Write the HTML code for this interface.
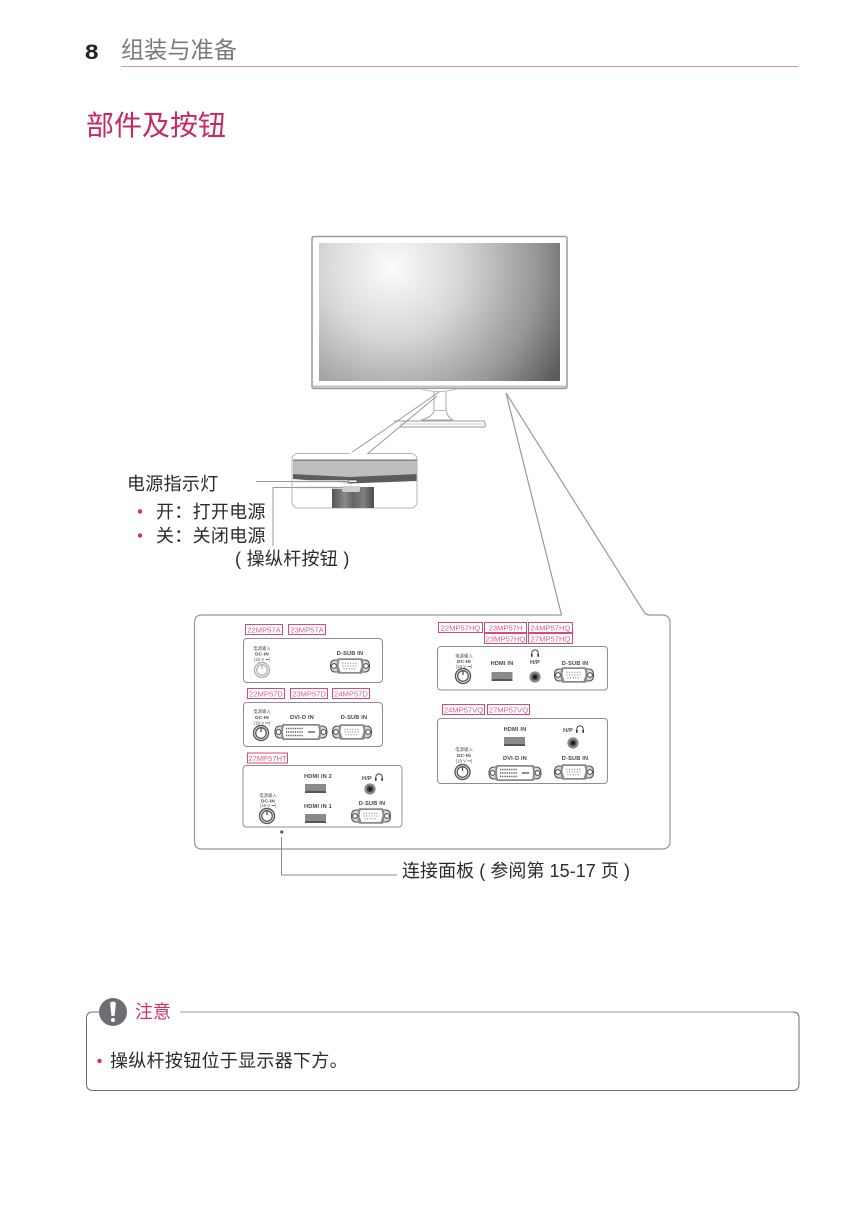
<!DOCTYPE html>
<html><head><meta charset="utf-8">
<style>
html,body{margin:0;padding:0;background:#fff;width:860px;height:1215px;overflow:hidden}
svg{display:block}
text{font-family:"Liberation Sans","Noto Sans CJK SC",sans-serif}
.c{font-size:18px;fill:#2b2b2b;letter-spacing:.3px}
.t rect{fill:#fff;stroke:#d6497a;stroke-width:1}
.t text{font-size:7.6px;fill:#d9608a;text-anchor:middle}
.b{fill:#fff;stroke:#8e8e8e;stroke-width:1}
.l{font-size:5.6px;font-weight:bold;fill:#444;text-anchor:middle;letter-spacing:.2px}
.s{font-size:4.4px;fill:#555;text-anchor:middle}
</style></head><body>
<svg width="860" height="1215" viewBox="0 0 860 1215" xmlns="http://www.w3.org/2000/svg">
<defs>
<radialGradient id="sc" gradientUnits="userSpaceOnUse" cx="392" cy="268" r="195">
<stop offset="0" stop-color="#fcfcfc"/><stop offset=".35" stop-color="#d8d8d8"/><stop offset=".75" stop-color="#969696"/><stop offset="1" stop-color="#5c5c5c"/>
</radialGradient>
<linearGradient id="col" x1="0" x2="1" y1="0" y2="0">
<stop offset="0" stop-color="#555"/><stop offset=".3" stop-color="#8a8a8a"/><stop offset=".5" stop-color="#666"/><stop offset=".75" stop-color="#808080"/><stop offset="1" stop-color="#4c4c4c"/>
</linearGradient>
<g id="dsub">
<path d="M-15-6H15Q19.500-6 19.500 0Q19.500 6 15 6H-15Q-19.500 6-19.500 0Q-19.500-6-15-6Z" fill="#d8d8d8" stroke="#555" stroke-width="1.100"/>
<circle cx="-16" cy="0" r="2.400" fill="#fff" stroke="#444" stroke-width="1"/>
<circle cx="16" cy="0" r="2.400" fill="#fff" stroke="#444" stroke-width="1"/>
<path d="M-12-7.800H12Q13.500-4 13.500 0Q13.500 4 12 7.800H-12Q-13.500 4-13.500 0Q-13.500-4-12-7.800Z" fill="#8a8a8a"/>
<path d="M-10.500-6H10.500Q11.500-3 11.500 0Q10.500 3 9.500 6H-9.500Q-10.500 3-11.500 0Q-11.500-3-10.500-6Z" fill="#fff"/>
<path d="M-7.500-2.800H7.500M-7.500 0H7.500M-6.500 2.800H6.500" stroke="#777" stroke-width="1" stroke-dasharray="1 1.600" fill="none"/>
</g>
<g id="dvi">
<path d="M-21-6H21Q26-6 26 0Q26 6 21 6H-21Q-26 6-26 0Q-26-6-21-6Z" fill="#d8d8d8" stroke="#555" stroke-width="1.100"/>
<circle cx="-22.500" cy="0" r="2.400" fill="#fff" stroke="#444" stroke-width="1"/>
<circle cx="22.500" cy="0" r="2.400" fill="#fff" stroke="#444" stroke-width="1"/>
<path d="M-18.500-8H18.500Q20-4 20 0Q20 4 18.500 8H-18.500Q-20 4-20 0Q-20-4-18.500-8Z" fill="#8a8a8a"/>
<path d="M-17-6.200H17Q18-3 18 0Q18 3 17 6.200H-17Q-18 3-18 0Q-18-3-17-6.200Z" fill="#fff"/>
<path d="M-15-3.500H2M-15 0H2M-15 3.500H2" stroke="#555" stroke-width="1.500" stroke-dasharray="1 .8" fill="none"/>
<path d="M7 0H14" stroke="#555" stroke-width="1.300"/>
</g>
<g id="dc">
<circle r="7.500" fill="#fff" stroke="#555" stroke-width="1.400"/>
<circle r="5.300" fill="#fff" stroke="#555" stroke-width="1.300"/>
<path d="M0-4.500V-1" stroke="#444" stroke-width="1.200"/>
</g>
<g id="jack">
<circle r="5.600" fill="#888"/><circle r="3.300" fill="#444"/><circle r="1.400" fill="#111"/>
</g>
<g id="hp">
<path d="M-3.200 2V0A3.200 3.200 0 0 1 3.200 0V2" fill="none" stroke="#333" stroke-width=".9"/>
<rect x="-4" y="1" width="1.600" height="2.800" fill="#333"/><rect x="2.400" y="1" width="1.600" height="2.800" fill="#333"/>
</g>
<g id="hdmi">
<rect width="21" height="9" fill="#8a8a8a"/>
<rect y="7.500" width="21" height="1.500" fill="#444"/>
<path d="M0 9L2 7H19L21 9Z" fill="#555"/>
</g>
</defs>

<!-- header -->
<text x="85" y="59" font-size="21" font-weight="bold" fill="#222" transform="translate(-12.750,0) scale(1.150,1)">8</text>
<text x="121" y="58" font-size="23.200" fill="#7a7a7a">组装与准备</text>
<rect x="121" y="66" width="677" height="1" fill="#e58cab"/>
<text x="86" y="135" font-size="28" fill="#c9285f">部件及按钮</text>

<!-- monitor -->
<rect x="312" y="236.500" width="255" height="152" rx="2" fill="#fff" stroke="#9a9a9a" stroke-width="1.500"/>
<rect x="319" y="243" width="241" height="138" fill="url(#sc)"/>
<path d="M313 386.500H566" stroke="#c4c4c4" stroke-width="2"/>
<!-- stand -->
<path d="M422 389Q438 394 457 389" fill="#fff" stroke="#bbb" stroke-width="1"/>
<path d="M434 392V410Q433 417 421 420H453Q447 417 446 410V392" fill="#fff" stroke="#aaa" stroke-width="1"/>
<rect x="433.500" y="410" width="13" height="1" fill="#bbb"/>
<path d="M394 421H484Q486 424 485 427H400" fill="#fff" stroke="#999" stroke-width="1"/>
<path d="M400 424H484" stroke="#ccc" stroke-width="1"/>
<!-- callout -->
<path d="M349.500 454L439 392M367 454L437 396" fill="#fff" stroke="#999" stroke-width="1"/>
<rect x="292" y="453.500" width="125" height="54.500" rx="6" fill="#fff" stroke="#b5b5b5" stroke-width="1"/>
<rect x="350" y="452" width="17" height="3" fill="#fff"/>
<path d="M293 460H416.500V474L350 477L293 474Z" fill="#bdbdbd"/>
<rect x="293" y="459.500" width="124" height="1.300" fill="#777"/>
<path d="M293 474L350 477L416.500 474V481L350 483.500L293 479Z" fill="#5c5c5c"/>
<rect x="332" y="487" width="42" height="21" fill="url(#col)"/>
<rect x="342" y="486" width="18" height="6" rx="2" fill="#cfcfcf"/>
<rect x="348" y="480" width="9" height="2.500" fill="#eee" stroke="#333" stroke-width=".6"/>
<path d="M292 481.500H348M292 487.500H343" stroke="#eee" stroke-width="2.500" fill="none"/>
<path d="M256 481.500H348" stroke="#999" stroke-width="1" fill="none"/>
<path d="M273 546V487.500H343" stroke="#999" stroke-width="1" fill="none"/>

<!-- labels -->
<text x="127" y="490" class="c">电源指示灯</text>
<circle cx="140" cy="511.500" r="2.200" fill="#d42e6b"/>
<text x="156" y="518" class="c">开：打开电源</text>
<circle cx="140" cy="535.500" r="2.200" fill="#d42e6b"/>
<text x="156" y="542" class="c">关：关闭电源</text>
<text x="235" y="565" class="c">( 操纵杆按钮 )</text>

<!-- connector panel -->
<path d="M506 393L561.500 615H202Q194.500 615 194.500 623V841Q194.500 849 202 849H662Q670 849 670 841V623Q670 615 662 615H650Q646 615 644 612L506 393" fill="#fff" stroke="#999" stroke-width="1.200"/>

<!-- model tags -->
<g class="t">
<rect x="245.500" y="624.500" width="37" height="10"/><text x="264" y="632.500">22MP57A</text>
<rect x="288.500" y="624.500" width="37" height="10"/><text x="307" y="632.500">23MP57A</text>
<rect x="247.500" y="688.500" width="37" height="10"/><text x="266" y="696.500">22MP57D</text>
<rect x="290.500" y="688.500" width="37" height="10"/><text x="309" y="696.500">23MP57D</text>
<rect x="332.500" y="688.500" width="37" height="10"/><text x="351" y="696.500">24MP57D</text>
<rect x="247.500" y="753" width="40" height="10"/><text x="267.500" y="761">27MP57HT</text>
<rect x="438.500" y="622.500" width="44" height="10"/><text x="460.500" y="630.500">22MP57HQ</text>
<rect x="484.500" y="622.500" width="42" height="10"/><text x="505.500" y="630.500">23MP57H</text>
<rect x="528.500" y="622.500" width="44" height="10"/><text x="550.500" y="630.500">24MP57HQ</text>
<rect x="484.500" y="633.500" width="42" height="10"/><text x="505.500" y="641.500">23MP57HQ</text>
<rect x="528.500" y="633.500" width="44" height="10"/><text x="550.500" y="641.500">27MP57HQ</text>
<rect x="442.500" y="704.500" width="42" height="10"/><text x="463.500" y="712.500">24MP57VQ</text>
<rect x="487.500" y="704.500" width="42" height="10"/><text x="508.500" y="712.500">27MP57VQ</text>
</g>

<!-- box 1 -->
<rect x="243.500" y="638.500" width="139" height="44" rx="3.500" class="b"/>
<text x="262" y="650" class="s">电源输入</text><text x="262" y="655.500" class="l" style="font-size:4.600px">DC-IN</text><text x="262" y="661" class="s">(19 V ⎓)</text>
<g transform="translate(262,670)" opacity=".45"><use href="#dc"/></g>
<text x="350" y="655" class="l">D-SUB IN</text><use href="#dsub" x="350" y="666"/>

<!-- box 2 -->
<rect x="243.500" y="702.500" width="139" height="44" rx="3.500" class="b"/>
<text x="262" y="713" class="s">电源输入</text><text x="262" y="719" class="l" style="font-size:4.600px">DC-IN</text><text x="262" y="724.500" class="s">(19 V ⎓)</text>
<use href="#dc" x="261" y="733"/>
<text x="302" y="719" class="l">DVI-D IN</text><use href="#dvi" x="301" y="732"/>
<text x="354" y="719" class="l">D-SUB IN</text><use href="#dsub" x="352" y="732"/>

<!-- box 3 -->
<rect x="243" y="765.500" width="159" height="61.500" rx="3.500" class="b"/>
<text x="268" y="797" class="s">电源输入</text><text x="268" y="802.500" class="l" style="font-size:4.600px">DC-IN</text><text x="268" y="807" class="s">(19 V ⎓)</text>
<use href="#dc" x="267" y="816"/>
<text x="318" y="778" class="l">HDMI IN 2</text>
<use href="#hdmi" x="305" y="784"/>
<text x="318" y="808" class="l">HDMI IN 1</text>
<use href="#hdmi" x="305" y="814"/>
<text x="367" y="780" class="l">H/P</text><use href="#hp" x="379" y="777"/>
<use href="#jack" x="370" y="789"/>
<text x="372" y="805" class="l">D-SUB IN</text><use href="#dsub" x="371" y="816"/>

<!-- box 4 -->
<rect x="437.500" y="646.500" width="170" height="43.500" rx="3.500" class="b"/>
<text x="464" y="657.500" class="s">电源输入</text><text x="464" y="663" class="l" style="font-size:4.600px">DC-IN</text><text x="464" y="668" class="s">(19 V ⎓)</text>
<use href="#dc" x="463" y="676"/>
<text x="502" y="665" class="l">HDMI IN</text>
<use href="#hdmi" x="491.500" y="672"/>
<use href="#hp" x="535" y="653"/>
<text x="535" y="664" class="l">H/P</text>
<use href="#jack" x="535" y="677"/>
<text x="575" y="665" class="l">D-SUB IN</text><use href="#dsub" x="574" y="675"/>

<!-- box 5 -->
<rect x="437.500" y="718.500" width="170" height="65" rx="3.500" class="b"/>
<text x="515" y="731" class="l">HDMI IN</text>
<use href="#hdmi" x="504" y="737"/>
<text x="568" y="732" class="l">H/P</text><use href="#hp" x="580" y="729"/>
<use href="#jack" x="573" y="743"/>
<text x="464" y="751" class="s">电源输入</text><text x="464" y="757" class="l" style="font-size:4.600px">DC-IN</text><text x="464" y="762.500" class="s">(19 V ⎓)</text>
<use href="#dc" x="462.500" y="772"/>
<text x="515" y="760" class="l">DVI-D IN</text><use href="#dvi" x="515" y="773"/>
<text x="575" y="760" class="l">D-SUB IN</text><use href="#dsub" x="574" y="772"/>

<!-- pointer -->
<circle cx="281.800" cy="832" r="1.600" fill="#555"/>
<path d="M281.500 837V875H397" fill="none" stroke="#888" stroke-width="1"/>
<text x="402" y="877" class="c" style="letter-spacing:.05px">连接面板 ( 参阅第 15-17 页 )</text>

<!-- note -->
<path d="M100 1012H93Q86.500 1012 86.500 1018V1084Q86.500 1090.500 93 1090.500H793Q799 1090.500 799 1084V1018Q799 1012 793 1012H180" fill="none" stroke="#6e6e6e" stroke-width="1"/>
<path d="M180 1012H793" fill="none" stroke="#999" stroke-width="1"/>
<circle cx="113" cy="1012" r="14" fill="#6d6e71"/>
<path d="M110 1003Q113 1000 116 1003L114.500 1016H111.500Z" fill="#fff"/>
<circle cx="113" cy="1020" r="2" fill="#fff"/>
<text x="135" y="1018" font-size="18" fill="#d42e6b">注意</text>
<circle cx="99.500" cy="1061" r="2.200" fill="#d42e6b"/>
<text x="110" y="1067" class="c">操纵杆按钮位于显示器下方。</text>
</svg>
</body></html>
